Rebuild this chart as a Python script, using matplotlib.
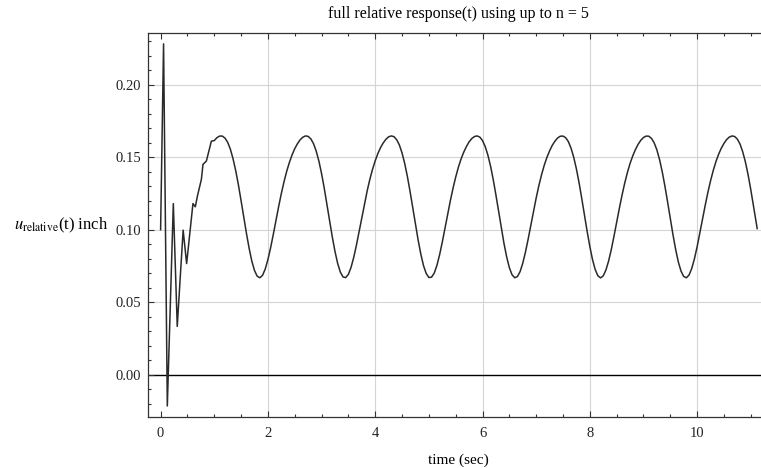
import numpy as np
import matplotlib
matplotlib.use("Agg")
import matplotlib.pyplot as plt
from matplotlib.ticker import MultipleLocator

plt.rcParams['font.family'] = ['Liberation Serif', 'DejaVu Serif']
plt.rcParams['mathtext.fontset'] = 'stix'

# early transient (t < 1 s), read point by point
t_early = [0.0, 0.055, 0.125, 0.237, 0.31, 0.42, 0.485, 0.603, 0.647, 0.685, 0.76, 0.79, 0.853, 0.946]
u_early = [0.100, 0.228, -0.0214, 0.118, 0.0334, 0.0997, 0.0767, 0.118, 0.1158, 0.123, 0.1347, 0.145, 0.1473, 0.161]

# steady part, read every 0.05 s from t = 1.00 to 11.10, last point at 11.12
t_steady = list(np.round(np.arange(1.0, 11.1001, 0.05), 2)) + [11.12]
u_steady = [
    0.1614, 0.1634, 0.1645, 0.1645, 0.1631, 0.1602, 0.1555, 0.1489, 0.1407, 0.1309,
    0.1200, 0.1086, 0.0975, 0.0872, 0.0784, 0.0719, 0.0680, 0.0669, 0.0686, 0.0729,
    0.0794, 0.0875, 0.0967, 0.1064, 0.1159, 0.1249, 0.1330, 0.1402, 0.1463, 0.1515,
    0.1558, 0.1592, 0.1619, 0.1637, 0.1646, 0.1643, 0.1626, 0.1593, 0.1542, 0.1473,
    0.1387,
    0.1286, 0.1176, 0.1062, 0.0951, 0.0851, 0.0768, 0.0708, 0.0675, 0.0670, 0.0693,
    0.0741, 0.0810, 0.0894, 0.0988, 0.1084, 0.1179, 0.1267, 0.1347, 0.1416, 0.1475,
    0.1525, 0.1566, 0.1598, 0.1623, 0.1640, 0.1646, 0.1641, 0.1620, 0.1584, 0.1529,
    0.1456, 0.1366, 0.1263, 0.1151, 0.1037,
    0.0929, 0.0832, 0.0753, 0.0699, 0.0671, 0.0673, 0.0701, 0.0754, 0.0827, 0.0914,
    0.1009, 0.1105, 0.1199, 0.1285, 0.1362, 0.1430, 0.1487, 0.1534, 0.1573, 0.1605,
    0.1628, 0.1642, 0.1646, 0.1638, 0.1614, 0.1573, 0.1514, 0.1438, 0.1345, 0.1239,
    0.1127, 0.1013, 0.0906, 0.0813, 0.0739, 0.0690, 0.0669, 0.0677, 0.0711, 0.0769,
    0.0845, 0.0934, 0.1030, 0.1126, 0.1218, 0.1303, 0.1378, 0.1443, 0.1498, 0.1543,
    0.1581, 0.1610, 0.1632, 0.1644, 0.1645, 0.1634, 0.1607, 0.1562, 0.1499, 0.1419,
    0.1323, 0.1215, 0.1102, 0.0989, 0.0885, 0.0795, 0.0726, 0.0683, 0.0668, 0.0682,
    0.0722, 0.0784, 0.0863, 0.0954, 0.1050, 0.1146, 0.1237, 0.1320, 0.1393, 0.1456,
    0.1508, 0.1552, 0.1588, 0.1616, 0.1635, 0.1645, 0.1644, 0.1629, 0.1598, 0.1550,
    0.1483, 0.1399, 0.1300, 0.1191, 0.1077, 0.0966, 0.0864, 0.0778, 0.0715, 0.0678,
    0.0669, 0.0688, 0.0733, 0.0800, 0.0882, 0.0975, 0.1071, 0.1166, 0.1256, 0.1336,
    0.1407, 0.1468, 0.1519, 0.1561, 0.1594, 0.1621, 0.1638, 0.1646, 0.1642, 0.1624,
    0.1590, 0.1537, 0.1467, 0.1379, 0.1277, 0.1167, 0.1053, 0.1008,
]

x_ticks = [0, 2, 4, 6, 8, 10]
y_ticks = [0.00, 0.05, 0.10, 0.15, 0.20]

t = t_early + t_steady
u = u_early + u_steady

fig = plt.figure(figsize=(7.61, 4.68), dpi=100)
ax = fig.add_axes([148/761, 51/468, 621/761, 384/468])
ax.set_xlim(-0.235, 11.34)
ax.set_ylim(-0.029, 0.2355)

for x in x_ticks[1:]:
    ax.axvline(x, color='#d4d4d4', lw=0.8, zorder=0)
for y in y_ticks[1:]:
    ax.axhline(y, color='#d4d4d4', lw=0.8, zorder=0)
ax.axhline(0, color='black', lw=1.0, zorder=1)

ax.plot(t, u, color='#2a2a2a', lw=1.1, zorder=2)

ax.set_xticks(x_ticks)
ax.set_yticks(y_ticks)
ax.set_yticklabels([f"{v:.2f}" for v in y_ticks])
ax.xaxis.set_minor_locator(MultipleLocator(0.5))
ax.yaxis.set_minor_locator(MultipleLocator(0.01))
ax.tick_params(which='both', direction='in', top=True, right=False, colors='#333333', labelcolor='#222222', labelsize=10.5)
ax.tick_params(which='major', length=4.5, width=0.8, pad=5)
ax.tick_params(axis='x', which='major', pad=7)
ax.tick_params(which='minor', length=2.2, width=0.8)
for s in ax.spines.values():
    s.set_color('#333333')
    s.set_linewidth(0.9)

ax.set_title("full relative response(t) using up to n = 5", fontsize=11.5, pad=11)
ax.set_xlabel("time (sec)", fontsize=11, labelpad=10)
ax.set_ylabel(r"$u_{\mathrm{relative}}$(t) inch", fontsize=12, rotation=0, ha='right', va='center')
ax.yaxis.set_label_coords(-0.064, 0.5)

fig.savefig("out.png", dpi=100)
